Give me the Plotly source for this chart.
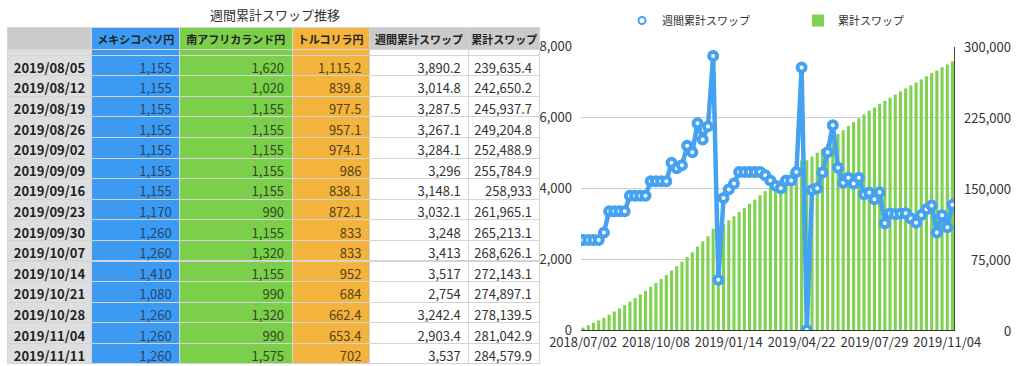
import plotly.graph_objects as go

# ---------------- data ----------------
dates = [
    "2018/07/02", "2018/07/09", "2018/07/16", "2018/07/23", "2018/07/30",
    "2018/08/06", "2018/08/13", "2018/08/20", "2018/08/27", "2018/09/03",
    "2018/09/10", "2018/09/17", "2018/09/24", "2018/10/01", "2018/10/08",
    "2018/10/15", "2018/10/22", "2018/10/29", "2018/11/05", "2018/11/12",
    "2018/11/19", "2018/11/26", "2018/12/03", "2018/12/10", "2018/12/17",
    "2018/12/24", "2018/12/31", "2019/01/07", "2019/01/14", "2019/01/21",
    "2019/01/28", "2019/02/04", "2019/02/11", "2019/02/18", "2019/02/25",
    "2019/03/04", "2019/03/11", "2019/03/18", "2019/03/25", "2019/04/01",
    "2019/04/08", "2019/04/15", "2019/04/22", "2019/04/29", "2019/05/06",
    "2019/05/13", "2019/05/20", "2019/05/27", "2019/06/03", "2019/06/10",
    "2019/06/17", "2019/06/24", "2019/07/01", "2019/07/08", "2019/07/15",
    "2019/07/22", "2019/07/29", "2019/08/05", "2019/08/12", "2019/08/19",
    "2019/08/26", "2019/09/02", "2019/09/09", "2019/09/16", "2019/09/23",
    "2019/09/30", "2019/10/07", "2019/10/14", "2019/10/21", "2019/10/28",
    "2019/11/04", "2019/11/11",
]

weekly_swap = [
    2540, 2540, 2540, 2540, 2750, 3350, 3350, 3350, 3350, 3790,
    3790, 3790, 3790, 4200, 4200, 4200, 4200, 4720, 4570, 4650,
    5200, 5020, 5840, 5380, 5750, 7740, 1420, 3730, 3965, 4135,
    4460, 4460, 4460, 4460, 4460, 4370, 4220, 4070, 4000, 4220,
    4220, 4460, 7410, 0, 3950, 4000, 4450, 5020, 5780, 4580,
    4160, 4300, 4140, 4300, 3835, 3880, 3690.2,
    3890.2, 3014.8, 3287.5, 3267.1, 3284.1, 3296, 3148.1, 3032.1,
    3248, 3413, 3517, 2754, 3242.4, 2903.4, 3537,
]

cumulative_swap = [
    2540, 5080, 7620, 10160, 12910, 16260, 19610, 22960, 26310, 30100,
    33890, 37680, 41470, 45670, 49870, 54070, 58270, 62990, 67560, 72210,
    77410, 82430, 88270, 93650, 99400, 107140, 108560, 112290, 116255, 120390,
    124850, 129310, 133770, 138230, 142690, 147060, 151280, 155350, 159350, 163570,
    167790, 172250, 179660, 179660, 183610, 187610, 192060, 197080, 202860, 207440,
    211600, 215900, 220040, 224340, 228175, 232055, 235745.2,
    239635.4, 242650.2, 245937.7, 249204.8, 252488.9, 255784.9, 258933, 261965.1,
    265213.1, 268626.1, 272143.1, 274897.1, 278139.5, 281042.9, 284579.9,
]

mxn_swap = [1155, 1155, 1155, 1155, 1155, 1155, 1155, 1170, 1260, 1260, 1410, 1080, 1260, 1260, 1260]
zar_swap = [1620, 1020, 1155, 1155, 1155, 1155, 1155, 990, 1155, 1320, 1155, 990, 1320, 990, 1575]
try_swap = [1115.2, 839.8, 977.5, 957.1, 974.1, 986, 838.1, 872.1, 833, 833, 952, 684, 662.4, 653.4, 702]

table_headers = ["", "メキシコペソ円", "南アフリカランド円", "トルコリラ円", "週間累計スワップ", "累計スワップ"]
n_tab = len(mxn_swap)
table_dates = dates[-n_tab:]
table_weekly = weekly_swap[-n_tab:]
table_cum = cumulative_swap[-n_tab:]

tick_dates = ["2018/07/02", "2018/10/08", "2019/01/14", "2019/04/22", "2019/07/29", "2019/11/04"]
left_ticks = [0, 2000, 4000, 6000, 8000]
right_ticks = [0, 75000, 150000, 225000, 300000]

title_text = "週間累計スワップ推移"

# ---------------- style ----------------
W, H = 1024, 366
FONT = "Noto Sans CJK JP, Noto Sans, sans-serif"
BLUE_COL = "#3d9af2"
GREEN_COL = "#7ccf4b"
ORANGE_COL = "#f2b43c"
HEAD_GRAY = "#cbcbcb"
DATE_GRAY = "#dedede"
LINE_BLUE = "#45a1f2"
BAR_GREEN = "#80d352"


def py(px):
    return 1 - px / H


def px_x(px):
    return px / W


col_widths = [84.6, 87.4, 112, 77, 99, 71]
tab_x = [px_x(7), px_x(540)]

fig = go.Figure()

# header table
fig.add_trace(go.Table(
    domain=dict(x=tab_x, y=[py(90), py(27.3)]),
    columnwidth=col_widths,
    header=dict(
        values=table_headers,
        fill=dict(color=[HEAD_GRAY, BLUE_COL, GREEN_COL, ORANGE_COL, HEAD_GRAY, HEAD_GRAY]),
        line=dict(color="#d4d4d4", width=1),
        align="center",
        font=dict(family=FONT, size=11, color="#222222", weight=700),
        height=22,
    ),
    cells=dict(values=[]),
))

# body table (thin header = scrolled-off row sliver)
fig.add_trace(go.Table(
    domain=dict(x=tab_x, y=[0, py(49)]),
    columnwidth=col_widths,
    header=dict(
        values=[""] * 6,
        fill=dict(color=[DATE_GRAY, BLUE_COL, GREEN_COL, ORANGE_COL, "white", "white"]),
        line=dict(color="#d4d4d4", width=1),
        height=6,
    ),
    cells=dict(
        values=[table_dates, mxn_swap, zar_swap, try_swap, table_weekly, table_cum],
        format=[None, ",", ",", ",", ",", ","],
        fill=dict(color=[DATE_GRAY, BLUE_COL, GREEN_COL, ORANGE_COL, "white", "white"]),
        line=dict(color="#d4d4d4", width=1),
        align=["center", "right", "right", "right", "right", "right"],
        font=dict(family=FONT, size=13,
                  weight=[700, 400, 400, 400, 400, 400],
                  color=["#222222", "#24486e", "#2f4a22", "#5a4015", "#333333", "#333333"]),
        height=20.6,
    ),
))

# chart
fig.add_trace(go.Bar(
    x=dates, y=cumulative_swap, name="累計スワップ",
    marker=dict(color=BAR_GREEN, line=dict(width=0)),
    xaxis="x", yaxis="y", legendrank=2, hoverinfo="skip",
))
fig.add_trace(go.Scatter(
    x=dates, y=weekly_swap, mode="lines+markers", showlegend=False,
    line=dict(color=LINE_BLUE, width=4.5),
    marker=dict(size=8, color="white", line=dict(color=LINE_BLUE, width=4)),
    xaxis="x", yaxis="y2", hoverinfo="skip",
))
fig.add_trace(go.Scatter(
    x=[None], y=[None], mode="markers", name="週間累計スワップ",
    marker=dict(size=7, color="white", line=dict(color=LINE_BLUE, width=2)),
    xaxis="x", yaxis="y2", legendrank=1,
))

annotations = [dict(
    x=px_x(275), y=py(14), xref="paper", yref="paper", showarrow=False,
    text=title_text, xanchor="center", yanchor="middle",
    font=dict(family=FONT, size=13, color="#333333"),
)]
# right-axis labels, right-aligned like the reference
for v in right_ticks:
    annotations.append(dict(
        x=px_x(1013), y=v, xref="paper", yref="y", showarrow=False,
        text=f"{v:,}", xanchor="right", yanchor="middle",
        font=dict(family=FONT, size=13, color="#333333"),
    ))

fig.update_layout(
    template="none",
    width=W, height=H, autosize=False,
    margin=dict(l=0, r=0, t=0, b=0, pad=0, autoexpand=False),
    paper_bgcolor="white", plot_bgcolor="white",
    font=dict(family=FONT, size=13, color="#333333"),
    bargap=0.4,
    showlegend=True,
    legend=dict(
        orientation="h", x=px_x(622), xanchor="left", y=py(6), yanchor="top",
        font=dict(family=FONT, size=11, color="#333333"),
        entrywidthmode="pixels", entrywidth=131,
        bgcolor="rgba(0,0,0,0)", borderwidth=0,
    ),
    xaxis=dict(
        domain=[px_x(581), px_x(954.3)], anchor="y", automargin=False,
        type="category", range=[-0.4, 71.35],
        tickmode="array", tickvals=tick_dates, ticktext=tick_dates,
        tickangle=0, showgrid=False, showline=True, linecolor="#333333", linewidth=1,
        ticks="", zeroline=False, tickfont=dict(size=13, color="#333333"),
    ),
    yaxis=dict(
        domain=[py(330), py(46.7)], side="right", anchor="x", automargin=False,
        range=[0, 300000], tickmode="array", tickvals=right_ticks,
        showticklabels=False,
        showgrid=True, gridcolor="#cdcdcd", gridwidth=1, zeroline=False,
        showline=True, linecolor="#444444", linewidth=1, ticks="",
    ),
    yaxis2=dict(
        overlaying="y", side="left", anchor="x", automargin=False,
        range=[0, 8000], tickmode="array", tickvals=left_ticks,
        tickformat=",", showgrid=False, zeroline=False, showline=False, ticks="",
        ticklabelstandoff=8, tickfont=dict(size=13, color="#333333"),
    ),
    annotations=annotations,
)

fig.write_html(
    "out.html",
    config={"displayModeBar": False},
    post_script="document.body.style.margin='0';document.body.style.overflow='hidden';",
)
